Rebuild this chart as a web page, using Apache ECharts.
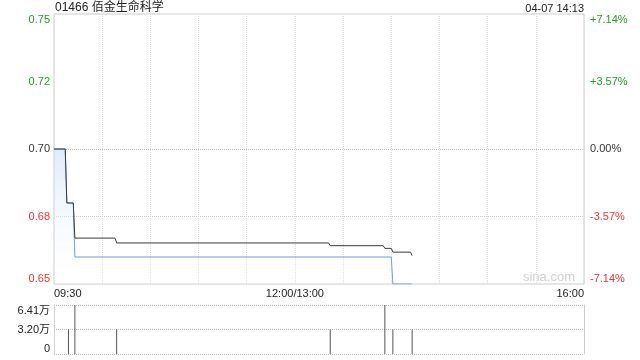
<!DOCTYPE html>
<html>
<head>
<meta charset="utf-8">
<script src="https://cdn.jsdelivr.net/npm/echarts@6/dist/echarts.min.js"></script>
<style>html,body{margin:0;padding:0;background:#fff}#c{width:640px;height:360px}</style>
</head>
<body>
<div id="c"></div>
<script>
// ---- data ----
var titleText = '01466 佰金生命科学';
var timeText = '04-07 14:13';
var timeTickPos = [0, 150, 330];
var timeTickLabels = ['09:30', '12:00/13:00', '16:00'];
var priceTicks = [0.65, 0.675, 0.70, 0.725, 0.75];
var priceLabels = ['0.65', '0.68', '0.70', '0.72', '0.75'];
var pctLabels = ['-7.14%', '-3.57%', '0.00%', '+3.57%', '+7.14%'];
var labelColors = ['#f03333', '#f03333', '#333333', '#22a022', '#22a022'];
var priceMinutes = [0, 7, 8, 12, 13, 210, 211, 223];
var priceValues = [0.70, 0.70, 0.68, 0.68, 0.66, 0.66, 0.65, 0.65];
var avgMinutes = [0, 7, 8, 12, 13, 38, 39, 171, 172, 205, 206, 210, 211, 222, 223];
var avgValues = [0.70, 0.70, 0.68, 0.68, 0.667, 0.667, 0.6652, 0.6652, 0.6642, 0.6642, 0.6632, 0.6632, 0.6618, 0.6618, 0.6605];
var volMinutes = [9, 13, 39, 172, 206, 211, 223];
var volValues = [32000, 64100, 32000, 32000, 64100, 32000, 32000];
var volTickLabels = ['0', '3.20万', '6.41万'];

function pairs(xs, ys) { return xs.map(function (x, i) { return [x, ys[i]]; }); }
function tickIndex(v) { return Math.round((v - 0.65) / 0.025); }

var chart = echarts.init(document.getElementById('c'), null, {renderer: 'canvas'});
var FF = 'Arial, "Liberation Sans", "Noto Sans CJK SC", sans-serif';
chart.setOption({
  animation: false,
  textStyle: {fontFamily: FF},
  title: [
    {text: titleText, left: 55, top: 2, padding: 0, textStyle: {fontSize: 12, fontWeight: 'normal', color: '#222', fontFamily: FF}},
    {text: timeText, right: 56, top: 3, padding: 0, textStyle: {fontSize: 11, fontWeight: 'normal', color: '#222', fontFamily: FF}}
  ],
  graphic: [
    {type: 'text', right: 65, top: 271, style: {text: 'sina.com', fill: '#d0d0d0', fontSize: 13, fontFamily: FF}}
  ],
  grid: [
    {left: 54, top: 14, width: 530, height: 270, show: true, borderColor: '#cccccc', borderWidth: 1, backgroundColor: 'transparent'},
    {left: 54, top: 305, width: 530, height: 49, show: false}
  ],
  xAxis: [
    {type: 'value', gridIndex: 0, min: 0, max: 330, interval: 30,
      axisLine: {show: false}, axisTick: {show: false},
      splitLine: {show: true, lineStyle: {color: '#dddddd', type: 'dotted', width: 1}},
      axisLabel: {show: true, margin: 4, fontSize: 11, color: '#222', fontFamily: FF,
        alignMinLabel: 'left', alignMaxLabel: 'right',
        formatter: function (v) { var i = timeTickPos.indexOf(Math.round(v)); return i >= 0 ? timeTickLabels[i] : ''; }}
    },
    {type: 'value', gridIndex: 1, min: 0, max: 330, interval: 30,
      axisLine: {show: false}, axisTick: {show: false}, splitLine: {show: false}, axisLabel: {show: false}}
  ],
  yAxis: [
    {type: 'value', gridIndex: 0, min: 0.65, max: 0.75, interval: 0.025, position: 'left',
      axisLine: {show: false}, axisTick: {show: false},
      splitLine: {show: true, lineStyle: {color: ['rgba(0,0,0,0)', '#cccccc', '#bbbbbb', 'rgba(0,0,0,0)', 'rgba(0,0,0,0)'], type: 'dotted', width: 1}},
      axisLabel: {margin: 4, fontSize: 11, fontFamily: FF,
        verticalAlignMinLabel: 'bottom', verticalAlignMaxLabel: 'top',
        color: function (v) { return labelColors[tickIndex(v)]; },
        formatter: function (v) { return priceLabels[tickIndex(v)]; }}
    },
    {type: 'value', gridIndex: 0, min: 0.65, max: 0.75, interval: 0.025, position: 'right',
      axisLine: {show: false}, axisTick: {show: false}, splitLine: {show: false},
      axisLabel: {margin: 6, fontSize: 11, fontFamily: FF,
        verticalAlignMinLabel: 'bottom', verticalAlignMaxLabel: 'top',
        color: function (v) { return labelColors[tickIndex(v)]; },
        formatter: function (v) { return pctLabels[tickIndex(v)]; }}
    },
    {type: 'value', gridIndex: 1, min: 0, max: 64100, interval: 32050, position: 'left',
      axisLine: {show: true, lineStyle: {color: '#cccccc', type: 'dotted'}}, axisTick: {show: false},
      splitLine: {show: true, lineStyle: {color: '#bbbbbb', type: 'dotted'}},
      axisLabel: {margin: 4, fontSize: 11, color: '#222', fontFamily: FF,
        verticalAlignMinLabel: 'bottom', verticalAlignMaxLabel: 'top',
        formatter: function (v) { return volTickLabels[Math.round(v / 32050)]; }}
    },
    {type: 'value', gridIndex: 1, min: 0, max: 64100, interval: 32050, position: 'right',
      axisLine: {show: true, lineStyle: {color: '#cccccc'}}, axisTick: {show: false},
      splitLine: {show: false}, axisLabel: {show: false}}
  ],
  series: [
    {type: 'line', xAxisIndex: 0, yAxisIndex: 0, data: pairs(priceMinutes, priceValues),
      symbol: 'none', lineStyle: {color: '#6d9de6', width: 1},
      areaStyle: {origin: 'start', color: new echarts.graphic.LinearGradient(0, 0, 0, 1, [
        {offset: 0, color: 'rgba(205,222,248,0.9)'}, {offset: 1, color: 'rgba(255,255,255,0.2)'}])},
      z: 2},
    {type: 'line', xAxisIndex: 0, yAxisIndex: 0, data: pairs(avgMinutes, avgValues),
      symbol: 'none', lineStyle: {color: '#3a3a3a', width: 1}, z: 3},
    {type: 'bar', xAxisIndex: 1, yAxisIndex: 2, data: pairs(volMinutes, volValues),
      barWidth: 1, itemStyle: {color: '#555555'}}
  ]
});
</script>
</body>
</html>
